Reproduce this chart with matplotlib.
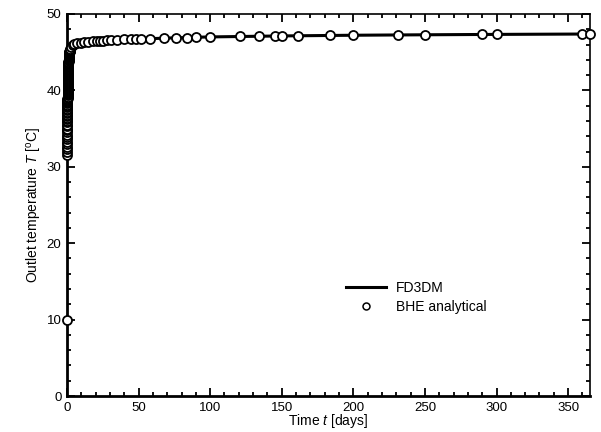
import matplotlib
matplotlib.use("Agg")
import matplotlib.pyplot as plt
from matplotlib.legend_handler import HandlerLine2D
from matplotlib.ticker import MultipleLocator

plt.rcParams['font.family'] = ['Liberation Sans', 'DejaVu Sans']
plt.rcParams['mathtext.fontset'] = 'custom'
plt.rcParams['mathtext.rm'] = 'Liberation Sans'
plt.rcParams['mathtext.it'] = 'Liberation Sans:italic'

# BHE analytical, first two days (time in hours)
hours_bhe = [0.25, 0.5, 0.75, 1, 1.25, 1.5, 1.75, 2, 2.25, 2.5, 2.75, 3,
             3.25, 3.5, 3.75, 4, 4.25, 4.5, 4.75, 5, 5.25, 5.5, 5.75, 6,
             6.25, 6.5, 6.75, 7, 7.25, 7.5, 7.75, 8, 8.25, 8.5, 8.75, 9,
             9.25, 9.5, 9.75, 10, 10.25, 10.5, 10.75, 11, 11.25, 11.5, 11.75, 12,
             12.5, 13, 13.5, 14, 14.5, 15, 15.5, 16, 16.5, 17, 17.5, 18,
             18.5, 19, 19.5, 20, 20.5, 21, 21.5, 22, 22.5, 23, 23.5, 24,
             25, 26, 27, 28, 29, 30, 31, 32, 33, 34, 35, 36,
             37, 38, 39, 40, 41, 42, 43, 44, 45, 46, 47, 48]
temp_hours = [31.5, 31.9, 32.3, 32.6, 33.0, 33.3, 33.6, 33.9, 34.2, 34.5,
              34.8, 35.0, 35.3, 35.5, 35.8, 36.0, 36.2, 36.4, 36.6, 36.8,
              37.0, 37.2, 37.4, 37.6, 37.8, 37.95, 38.1, 38.3, 38.45, 38.6,
              38.75, 38.9, 39.05, 39.2, 39.35, 39.5, 39.6, 39.75, 39.9, 40.0,
              40.15, 40.3, 40.4, 40.55, 40.7, 40.8, 40.95, 41.1,
              41.2, 41.35, 41.5, 41.6, 41.75, 41.85, 42.0, 42.1, 42.2, 42.3,
              42.45, 42.55, 42.65, 42.75, 42.85, 42.95, 43.05, 43.15, 43.25,
              43.35, 43.45, 43.55, 43.65, 43.75,
              43.85, 43.95, 44.05, 44.15, 44.25, 44.35, 44.45, 44.5, 44.6,
              44.65, 44.7, 44.78, 44.85, 44.9, 44.95, 45.0, 45.05, 45.1,
              45.15, 45.2, 45.25, 45.3, 45.35, 45.4]
# BHE analytical, later (time in days)
days_bhe = [3, 4, 5, 7, 10, 12, 15, 18, 21, 23, 25, 28, 31, 35, 40, 45, 48, 52,
            58, 68, 76, 84, 90, 100, 121, 134, 145, 150, 161, 184, 200, 231,
            250, 290, 300, 360, 365]
temp_days = [45.7, 45.9, 46.05, 46.15, 46.25, 46.3, 46.38, 46.43, 46.48, 46.5,
             46.53, 46.56, 46.6, 46.63, 46.67, 46.7, 46.72, 46.75, 46.78, 46.84,
             46.88, 46.92, 46.95, 47.0, 47.06, 47.1, 47.12, 47.13, 47.15, 47.2,
             47.22, 47.26, 47.28, 47.32, 47.33, 47.37, 47.38]

t_bhe = [0] + [h / 24 for h in hours_bhe] + days_bhe
T_bhe = [10] + temp_hours + temp_days

# FD3DM numerical solution
t_fd = [0.01, 0.1, 0.2, 0.3, 0.5, 0.75, 1, 1.5, 2, 3, 5, 10, 20, 30, 50, 75,
        100, 150, 200, 250, 300, 365]
T_fd = [31.3, 35.3, 37.6, 39.0, 41.2, 42.7, 43.8, 44.7, 45.4, 45.7, 46.05,
        46.25, 46.45, 46.58, 46.72, 46.88, 47.0, 47.13, 47.22, 47.28, 47.33,
        47.38]


class MarkerAtEnd(HandlerLine2D):
    # legend marker sits at the right end of the handle, next to the text
    def get_xdata(self, legend, xdescent, ydescent, width, height, fontsize):
        xdata = [-xdescent, -xdescent + width]
        return xdata, [-xdescent + width - 0.1 * fontsize]


fig = plt.figure(figsize=(6.01, 4.32), dpi=100)
ax = fig.add_axes([0.1115, 0.0833, 0.8695, 0.8843])

line_fd, = ax.plot(t_fd, T_fd, color='black', lw=2.2, zorder=2, label='FD3DM')
pts, = ax.plot(t_bhe, T_bhe, 'o', ms=6.5, mfc='white', mec='black', mew=1.3,
               zorder=3, clip_on=False, label='BHE analytical')

ax.set_xlim(0, 365)
ax.set_ylim(0, 50)
ax.xaxis.set_major_locator(MultipleLocator(50))
ax.xaxis.set_minor_locator(MultipleLocator(10))
ax.yaxis.set_major_locator(MultipleLocator(10))
ax.yaxis.set_minor_locator(MultipleLocator(2))
ax.tick_params(which='both', direction='in', top=True, right=True,
               labelsize=9.5, width=1.3, pad=4)
ax.tick_params(which='major', length=6)
ax.tick_params(which='minor', length=3)
for side in ['left', 'bottom']:
    ax.spines[side].set_linewidth(2.0)
for side in ['top', 'right']:
    ax.spines[side].set_linewidth(1.2)

ax.set_xlabel(r'Time $t$ [days]', fontsize=10, labelpad=-1)
ax.set_ylabel(r'Outlet temperature $T$ [$^\mathrm{o}$C]', fontsize=10, labelpad=2)

small = plt.Line2D([], [], ls='none', marker='o', ms=5, mfc='white',
                   mec='black', mew=1.1)
ax.legend([line_fd, small], ['FD3DM', 'BHE analytical'], frameon=False,
          loc='upper left', bbox_to_anchor=(0.51, 0.335), fontsize=10,
          handlelength=2.9, handletextpad=0.7, labelspacing=0.4,
          handler_map={small: MarkerAtEnd()})

fig.savefig('out.png', dpi=100)
